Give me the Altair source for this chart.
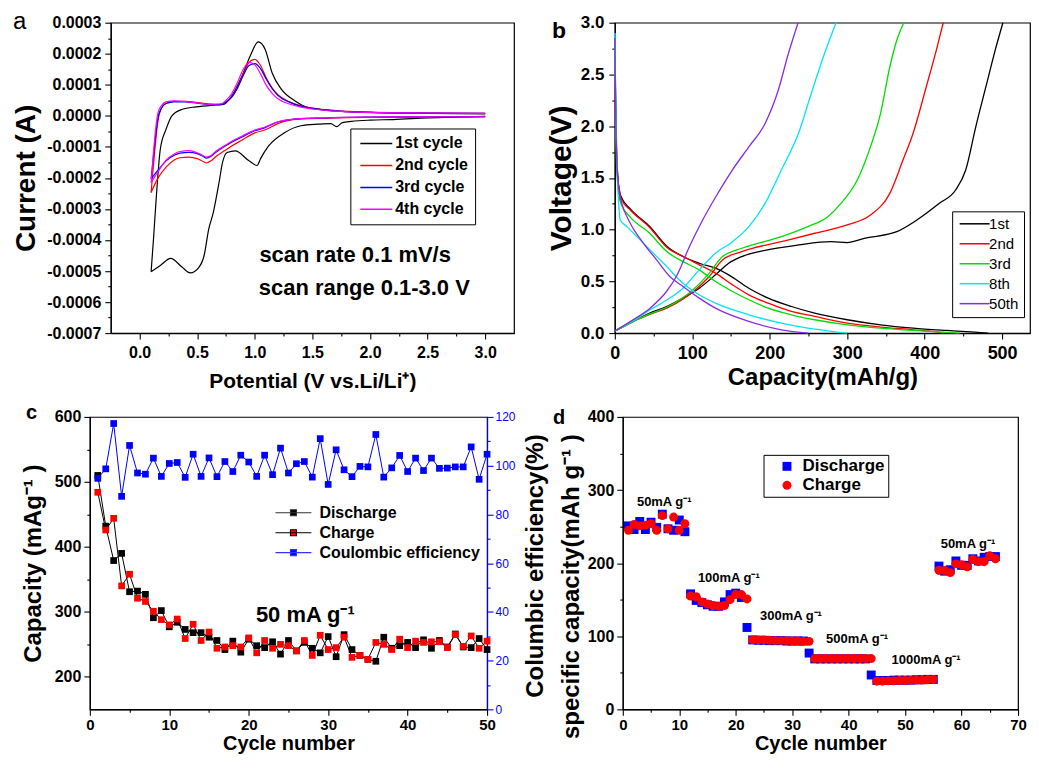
import altair as alt
import pandas as pd

FONT = "Liberation Sans"

# ===================== (a) cyclic voltammetry =====================
# potential in V, current in units of 1e-4 A
cv_names = ["1st cycle", "2nd cycle", "3rd cycle", "4th cycle"]
cv_colors = ["#000000", "#ff0000", "#0000ff", "#ff00ff"]

cv1_cath_v = [3.0, 2.5, 2.2, 2.0, 1.84, 1.76, 1.71, 1.66, 1.55, 1.4, 1.26, 1.12, 1.05, 1.02,
              0.95, 0.83, 0.76, 0.72, 0.69, 0.64, 0.60, 0.56, 0.515, 0.44, 0.37, 0.27, 0.18, 0.1]
cv1_cath_i = [-0.02, -0.07, -0.12, -0.14, -0.18, -0.22, -0.35, -0.25, -0.27, -0.32, -0.54, -0.97,
              -1.38, -1.6, -1.45, -1.13, -1.18, -1.5, -2.14, -3.11, -3.65, -4.5, -4.88, -5.06,
              -4.88, -4.59, -4.82, -5.02]
cv1_an_v = [0.1, 0.12, 0.14, 0.18, 0.23, 0.28, 0.37, 0.49, 0.66, 0.73, 0.80, 0.89, 0.96, 1.03,
            1.09, 1.15, 1.23, 1.35, 1.46, 1.69, 1.84, 2.5, 3.0]
cv1_an_i = [-5.02, -4.0, -2.89, -1.07, -0.43, 0.0, 0.21, 0.29, 0.35, 0.37, 0.64, 1.29, 1.93,
            2.38, 2.14, 1.39, 0.86, 0.48, 0.27, 0.16, 0.13, 0.08, 0.06]

cv_cath_v = [3.0, 2.5, 2.0, 1.8, 1.6, 1.4, 1.2, 1.09, 1.0, 0.89, 0.8, 0.74, 0.66, 0.62, 0.58,
             0.55, 0.5, 0.43, 0.35, 0.3, 0.23, 0.16, 0.1]
cv_an_v = [0.1, 0.12, 0.14, 0.16, 0.19, 0.23, 0.3, 0.4, 0.5, 0.6, 0.7, 0.75, 0.8, 0.85, 0.9,
           0.95, 1.0, 1.05, 1.1, 1.15, 1.2, 1.3, 1.4, 1.5, 1.7, 2.0, 2.5, 3.0]
cv2_cath_i = [-0.03, -0.04, -0.05, -0.06, -0.08, -0.10, -0.25, -0.45, -0.55, -0.78, -0.97, -1.12,
              -1.32, -1.45, -1.52, -1.47, -1.38, -1.33, -1.35, -1.42, -1.65, -2.0, -2.47]
cv2_an_i = [-2.47, -1.6, -0.8, -0.15, 0.25, 0.40, 0.47, 0.47, 0.43, 0.38, 0.37, 0.45, 0.62, 0.92,
            1.35, 1.72, 1.82, 1.62, 1.22, 0.9, 0.68, 0.45, 0.32, 0.25, 0.17, 0.12, 0.09, 0.08]
cv3_cath_i = [-0.03, -0.03, -0.04, -0.05, -0.07, -0.09, -0.2, -0.38, -0.48, -0.68, -0.85, -0.98,
              -1.18, -1.30, -1.36, -1.30, -1.22, -1.18, -1.2, -1.27, -1.45, -1.75, -2.03]
cv3_an_i = [-2.03, -1.3, -0.6, -0.05, 0.25, 0.40, 0.45, 0.45, 0.41, 0.37, 0.36, 0.44, 0.60, 0.90,
            1.30, 1.62, 1.68, 1.52, 1.18, 0.88, 0.66, 0.44, 0.31, 0.24, 0.16, 0.11, 0.09, 0.08]
cv4_cath_i = [-0.03, -0.03, -0.04, -0.05, -0.07, -0.09, -0.19, -0.36, -0.46, -0.65, -0.82, -0.96,
              -1.15, -1.28, -1.33, -1.28, -1.19, -1.12, -1.15, -1.23, -1.43, -1.8, -2.15]
cv4_an_i = [-2.15, -1.2, -0.4, 0.1, 0.33, 0.45, 0.48, 0.46, 0.42, 0.37, 0.38, 0.50, 0.72, 1.08,
            1.50, 1.72, 1.64, 1.35, 0.98, 0.72, 0.55, 0.38, 0.28, 0.22, 0.15, 0.11, 0.09, 0.08]

a_note_text = ["scan rate 0.1 mV/s", "scan range 0.1-3.0 V"]
a_note_x = [1.04, 1.035]
a_note_y = [-0.000449, -0.000555]

# ===================== (b) charge / discharge profiles =====================
b_names = ["1st", "2nd", "3rd", "8th", "50th"]
b_colors = ["#000000", "#ff0000", "#00dd00", "#00e5f5", "#8a2be2"]

dis1_c = [0, 1, 2, 4, 6, 8, 20, 45, 67, 88, 109, 130, 147, 173, 198, 228, 258, 300, 343, 385, 428, 460, 482]
dis1_v = [2.9, 2.3, 1.85, 1.5, 1.38, 1.32, 1.2, 1.03, 0.84, 0.74, 0.675, 0.627, 0.563, 0.434, 0.338,
          0.257, 0.193, 0.129, 0.080, 0.048, 0.026, 0.012, 0.0]
chg1_c = [0, 24, 45, 67, 88, 109, 130, 147, 164, 194, 237, 279, 300, 322, 364, 390, 419, 440, 453,
          466, 479, 491, 501]
chg1_v = [0.02, 0.113, 0.193, 0.257, 0.338, 0.434, 0.563, 0.675, 0.74, 0.80, 0.852, 0.884, 0.875,
          0.916, 0.98, 1.093, 1.254, 1.383, 1.576, 1.994, 2.379, 2.733, 3.0]
dis2_c = [0, 1, 2, 4, 6, 8, 20, 45, 67, 88, 109, 130, 152, 173, 198, 228, 258, 300, 343, 385, 417, 425]
dis2_v = [2.9, 2.2, 1.8, 1.48, 1.37, 1.3, 1.19, 1.02, 0.83, 0.74, 0.66, 0.58, 0.466, 0.37, 0.289,
          0.209, 0.161, 0.096, 0.058, 0.032, 0.01, 0.0]
chg2_c = [0, 24, 45, 67, 101, 122, 139, 164, 215, 258, 300, 330, 355, 372, 385, 402, 415, 424]
chg2_v = [0.02, 0.113, 0.18, 0.241, 0.40, 0.547, 0.707, 0.788, 0.884, 0.965, 1.045, 1.141, 1.35,
          1.672, 1.929, 2.379, 2.733, 3.0]
dis3_c = [0, 1, 2, 4, 6, 8, 20, 45, 67, 88, 109, 130, 152, 173, 198, 228, 258, 300, 343, 385, 445]
dis3_v = [2.9, 2.1, 1.7, 1.42, 1.3, 1.25, 1.12, 0.965, 0.788, 0.691, 0.611, 0.498, 0.402, 0.322,
          0.241, 0.177, 0.129, 0.08, 0.048, 0.026, 0.0]
chg3_c = [0, 24, 45, 67, 101, 122, 139, 164, 215, 249, 275, 292, 313, 330, 343, 355, 364, 373]
chg3_v = [0.02, 0.113, 0.185, 0.25, 0.418, 0.579, 0.74, 0.82, 0.932, 1.029, 1.125, 1.254, 1.479,
          1.8, 2.122, 2.572, 2.83, 3.0]
dis8_c = [0, 1, 2, 4, 5, 7, 15.7, 28.5, 45.5, 67, 88, 109, 130, 173, 215, 258, 300]
dis8_v = [2.9, 2.3, 1.9, 1.4, 1.25, 1.093, 1.029, 0.932, 0.804, 0.643, 0.482, 0.37, 0.289, 0.177,
          0.096, 0.039, 0.0]
chg8_c = [0, 24, 45.5, 67, 88, 109, 130, 152, 173, 194, 215, 237, 253.6, 270.6, 285.5]
chg8_v = [0.02, 0.12, 0.225, 0.32, 0.434, 0.611, 0.772, 0.884, 1.029, 1.254, 1.576, 1.929, 2.315,
          2.7, 3.0]
dis50_c = [0, 1, 3, 6, 8, 20, 37, 54, 71, 88, 109, 130, 173, 215, 250]
dis50_v = [2.85, 2.2, 1.6, 1.35, 1.28, 1.061, 0.868, 0.707, 0.547, 0.45, 0.338, 0.241, 0.113,
           0.032, 0.0]
chg50_c = [0, 24, 45.5, 66.7, 79.4, 96.4, 113.4, 130.4, 151.7, 173, 194, 211, 224, 236.6]
chg50_v = [0.02, 0.13, 0.241, 0.402, 0.547, 0.836, 1.093, 1.318, 1.576, 1.80, 2.026, 2.347, 2.7, 3.0]

# ===================== (c) cycling at 50 mA/g =====================
c_names = ["Discharge", "Charge", "Coulombic efficiency"]
c_cycles = list(range(1, 51))
c_disch = [510, 432, 379, 390, 331, 332, 327, 291, 302, 277, 284, 273, 268, 268, 261, 256, 242,
           255, 238, 258, 248, 245, 254, 235, 256, 240, 253, 244, 237, 262, 231, 265, 242, 233,
           227, 224, 261, 244, 248, 253, 245, 257, 244, 256, 246, 266, 246, 245, 259, 242]
c_charge = [484, 426, 444, 340, 358, 321, 316, 301, 288, 280, 289, 259, 281, 256, 269, 244, 246,
            248, 246, 260, 237, 256, 244, 250, 248, 240, 256, 233, 264, 242, 245, 261, 230, 233,
            227, 253, 250, 242, 258, 245, 255, 253, 254, 254, 245, 265, 247, 263, 244, 255]
c_ce = [94.8, 98.7, 117.3, 87.4, 108.3, 97.0, 96.5, 103.1, 95.6, 100.9, 101.3, 95.2, 104.7, 95.6,
        103.2, 95.5, 101.7, 97.6, 104.3, 101.5, 95.6, 104.3, 96.3, 107.2, 97.0, 100.8, 101.7, 95.3,
        111.1, 92.3, 106.5, 98.3, 95.5, 99.7, 99.5, 112.8, 95.3, 99.1, 104.2, 97.6, 103.1, 98.0,
        103.1, 98.9, 99.0, 99.5, 99.5, 107.7, 94.4, 104.7]
c_note_text = ["50 mA g\u207b\u00b9"]
c_note_x = [20.9]
c_note_y = [295]

# ===================== (d) rate capability =====================
d_names = ["Discharge", "Charge"]
d_cycles = list(range(1, 67))
d_disch = [251, 246, 257, 246, 256, 249, 267, 247, 245, 259, 243,
           158, 149, 146, 143, 141, 141, 147, 157, 159, 153,
           112, 95, 94.5, 94.5, 94, 94, 94, 93.5, 93.5, 93.5, 93.5,
           77, 69, 69, 69, 69, 69, 69, 69, 69, 69, 69,
           47, 39.5, 39.5, 39.5, 40, 40, 40, 40, 40.5, 40.5, 41, 41,
           196, 189, 191, 203, 197, 197, 206, 203, 208, 209, 209]
d_charge = [245, 253, 251, 252, 254, 245, 265, 247, 263, 245, 254,
            155, 154, 147, 144, 142, 141, 142, 150, 157, 157, 151,
            95, 95, 95, 94.5, 94, 94, 94, 93.5, 93.5, 93, 93,
            69.5, 69.5, 69.5, 69.5, 69.5, 69.5, 69.5, 69.5, 69.5, 69.5, 69.5,
            38.5, 38.5, 39, 39, 39.5, 39.5, 40, 40, 40, 40.5, 41,
            190, 190, 187, 199, 198, 195, 205, 202, 202, 210, 206]
d_note_text = ["50mA g\u207b\u00b9", "100mA g\u207b\u00b9", "300mA g\u207b\u00b9",
               "500mA g\u207b\u00b9", "1000mA g\u207b\u00b9", "50mA g\u207b\u00b9"]
d_note_x = [2.5, 13.3, 24.3, 36.0, 47.6, 56.3]
d_note_y = [283, 180, 128, 96, 68, 226]


# ===================== helpers =====================
def axis_spec(major, minor, step, fmt, title, title_size, label_size, title_pad, label_pad,
              label_weight="bold", color="#000000", orient=None, **extra):
    values = sorted(set(major) | set(minor))
    is_minor = ("abs(datum.value / " + repr(float(step)) + " - round(datum.value / "
                + repr(float(step)) + ")) > 0.001")
    opts = dict(
        values=values, tickCount=500,
        labelExpr=is_minor + " ? '' : replace(format(datum.value, '" + fmt + "'), '\u2212', '-')",
        tickSize={"condition": {"test": is_minor, "value": 3}, "value": 6},
        title=title,
        titleFont=FONT, titleFontSize=title_size, titleFontWeight="bold", titleColor="#000000",
        titlePadding=title_pad,
        labelFont=FONT, labelFontSize=label_size, labelFontWeight=label_weight, labelColor=color,
        labelPadding=label_pad,
        domainColor=color, tickColor=color, domainWidth=1.2, tickWidth=1.1,
        grid=False, labelFlush=False, labelOverlap=False, labelBound=False,
    )
    if orient:
        opts["orient"] = orient
    opts.update(extra)
    return alt.Axis(**opts)


def letter(txt, x, y, size, weight):
    return alt.Chart(pd.DataFrame({"t": [txt]})).mark_text(
        align="left", baseline="top", font=FONT, fontSize=size, fontWeight=weight,
        color="#000000").encode(x=alt.value(x), y=alt.value(y), text="t:N")


def spacer(x, y):
    return alt.Chart(pd.DataFrame({"s": [0]})).mark_point(opacity=0, size=0, strokeWidth=0).encode(
        x=alt.value(x), y=alt.value(y))


def empty_cell():
    return alt.Chart(pd.DataFrame({"s": [0]})).mark_point(opacity=0, size=0, strokeWidth=0).encode(
        x=alt.value(0), y=alt.value(0)).properties(
        width=1, height=1, view=alt.ViewBackground(stroke="transparent"))


def curve_rows(xs, ys, series, seg, factor=1.0):
    return [{"x": x, "y": y * factor, "series": series, "seg": seg, "idx": k}
            for k, (x, y) in enumerate(zip(xs, ys))]


indep = dict(color="independent", fill="independent", stroke="independent", shape="independent")


def ind(c):
    return c.resolve_scale(**indep).resolve_legend(**indep)


# ===================== panel a =====================
rows = []
rows += curve_rows(cv1_cath_v, cv1_cath_i, cv_names[0], "1c", 1e-4)
rows += curve_rows(cv1_an_v, cv1_an_i, cv_names[0], "1a", 1e-4)
rows += curve_rows(cv_cath_v, cv2_cath_i, cv_names[1], "2c", 1e-4)
rows += curve_rows(cv_an_v, cv2_an_i, cv_names[1], "2a", 1e-4)
rows += curve_rows(cv_cath_v, cv3_cath_i, cv_names[2], "3c", 1e-4)
rows += curve_rows(cv_an_v, cv3_an_i, cv_names[2], "3a", 1e-4)
rows += curve_rows(cv_cath_v, cv4_cath_i, cv_names[3], "4c", 1e-4)
rows += curve_rows(cv_an_v, cv4_an_i, cv_names[3], "4a", 1e-4)
df_a = pd.DataFrame(rows)

a_xmaj = [0.0, 0.5, 1.0, 1.5, 2.0, 2.5, 3.0]
a_xmin = [0.25, 0.75, 1.25, 1.75, 2.25, 2.75]
a_ymaj = [round(k * 0.0001, 4) for k in range(-7, 4)]
a_ymin = [round(k * 0.0001 + 0.00005, 5) for k in range(-7, 3)]

a_x = alt.X("x:Q", scale=alt.Scale(domain=[-0.25, 3.25], nice=False, zero=False),
            axis=axis_spec(a_xmaj, a_xmin, 0.5, ".1f", "Potential (V vs.Li/Li\u207a)", 21, 16, 11, 5))
a_y = alt.Y("y:Q", scale=alt.Scale(domain=[-0.0007, 0.0003], nice=False, zero=False),
            axis=axis_spec(a_ymaj, a_ymin, 0.0001, ".4f", "Current (A)", 28, 16, 6, 4))

a_lines = alt.Chart(df_a).mark_line(strokeWidth=1.2, interpolate="monotone").encode(
    x=a_x, y=a_y,
    color=alt.Color("series:N", scale=alt.Scale(domain=cv_names, range=cv_colors),
                    legend=alt.Legend(title=None, orient="none", legendX=240, legendY=106,
                                      strokeColor="#000000", fillColor="#ffffff", padding=7,
                                      labelFont=FONT, labelFontSize=16, labelFontWeight="bold",
                                      labelColor="#000000", symbolType="M-1,0H5.4", symbolSize=100,
                                      symbolStrokeWidth=1.5, labelOffset=22, rowPadding=6)),
    detail="seg:N", order="idx:Q")

a_notes = alt.Chart(pd.DataFrame({"x": a_note_x, "y": a_note_y, "t": a_note_text})).mark_text(
    align="left", baseline="middle", font=FONT, fontSize=22, fontWeight="bold", color="#000000"
).encode(x="x:Q", y="y:Q", text="t:N")

panel_a = alt.layer(a_lines, a_notes, letter("a", -98, -12.5, 24, "normal"), spacer(-99, -8)
                    ).properties(width=404, height=311)

# ===================== panel b =====================
rows = []
for name, dc, dv, cc, cvv in [(b_names[0], dis1_c, dis1_v, chg1_c, chg1_v),
                              (b_names[1], dis2_c, dis2_v, chg2_c, chg2_v),
                              (b_names[2], dis3_c, dis3_v, chg3_c, chg3_v),
                              (b_names[3], dis8_c, dis8_v, chg8_c, chg8_v),
                              (b_names[4], dis50_c, dis50_v, chg50_c, chg50_v)]:
    rows += curve_rows(dc, dv, name, name + "d")
    rows += curve_rows(cc, cvv, name, name + "c")
df_b = pd.DataFrame(rows)

b_xmaj = [0, 100, 200, 300, 400, 500]
b_xmin = [50, 150, 250, 350, 450]
b_ymaj = [0.0, 0.5, 1.0, 1.5, 2.0, 2.5, 3.0]
b_ymin = [0.25, 0.75, 1.25, 1.75, 2.25, 2.75]

b_lines = alt.Chart(df_b).mark_line(strokeWidth=1.3, interpolate="monotone").encode(
    x=alt.X("x:Q", scale=alt.Scale(domain=[0, 536], nice=False, zero=False),
            axis=axis_spec(b_xmaj, b_xmin, 100, "d", "Capacity(mAh/g)", 24, 18, 4, 5)),
    y=alt.Y("y:Q", scale=alt.Scale(domain=[0, 3], nice=False, zero=False),
            axis=axis_spec(b_ymaj, b_ymin, 0.5, ".1f", "Voltage(V)", 30, 17, 4, 5)),
    color=alt.Color("series:N", scale=alt.Scale(domain=b_names, range=b_colors),
                    legend=alt.Legend(title=None, orient="none", legendX=338, legendY=189,
                                      strokeColor="#000000", fillColor="#ffffff", padding=5,
                                      labelFont=FONT, labelFontSize=15, labelFontWeight="normal",
                                      labelColor="#000000", symbolType="M-1,0H5.0", symbolSize=100,
                                      symbolStrokeWidth=1.5, labelOffset=17, rowPadding=4)),
    detail="seg:N", order="idx:Q")

panel_b = alt.layer(b_lines, letter("b", -63, -2.4, 23, "bold")).properties(width=416, height=311)

# ===================== panel c =====================
df_c = pd.DataFrame({"cycle": c_cycles, "dis": c_disch, "chg": c_charge, "ce": c_ce})
c_xmaj = [0, 10, 20, 30, 40, 50]
c_xmin = [5, 15, 25, 35, 45]
c_ymaj = [200, 300, 400, 500, 600]
c_ymin = [250, 350, 450, 550]
c_rmaj = [0, 20, 40, 60, 80, 100, 120]
c_rmin = [10, 30, 50, 70, 90, 110]

c_x = alt.X("cycle:Q", scale=alt.Scale(domain=[0, 50], nice=False, zero=False),
            axis=axis_spec(c_xmaj, c_xmin, 10, "d", "Cycle number", 20, 15, 1, 2))
c_yl_scale = alt.Scale(domain=[150, 600], nice=False, zero=False)
c_yl_axis = axis_spec(c_ymaj, c_ymin, 100, "d", "Capacity  (mAg\u207b\u00b9 )", 24, 16, 9, 3)
c_yr_scale = alt.Scale(domain=[0, 120], nice=False, zero=False)
c_yr_axis = axis_spec(c_rmaj, c_rmin, 20, "d", None, 12, 12, 4, 2, label_weight="normal",
                      color="#0000ff", orient="right")

base_c = alt.Chart(df_c)
c_line_dis = base_c.mark_line(strokeWidth=1, color="#000000").encode(
    x=c_x, y=alt.Y("dis:Q", scale=c_yl_scale, axis=c_yl_axis))
c_line_chg = base_c.mark_line(strokeWidth=1, color="#000000").encode(
    x=c_x, y=alt.Y("chg:Q", scale=c_yl_scale, axis=c_yl_axis))
c_pts_dis = base_c.mark_square(size=45, opacity=1, color="#000000").encode(
    x=c_x, y=alt.Y("dis:Q", scale=c_yl_scale, axis=c_yl_axis))
c_pts_chg = base_c.mark_square(size=45, opacity=1, color="#ff0000").encode(
    x=c_x, y=alt.Y("chg:Q", scale=c_yl_scale, axis=c_yl_axis))

c_leg_props = dict(title=None, orient="none", legendX=183, legendY=88, padding=0,
                   labelFont=FONT, labelFontSize=16, labelFontWeight="bold", labelColor="#000000",
                   symbolType="M-1,0H6.2M2.0,-0.6H3.2V0.6H2.0Z", symbolSize=100,
                   symbolStrokeWidth=1.1, labelOffset=31, rowPadding=4, labelLimit=400)
c_legend = alt.Chart(pd.DataFrame({"series": pd.Series([], dtype="object")})).mark_point(
    filled=True, opacity=1).encode(
    fill=alt.Fill("series:N", scale=alt.Scale(domain=c_names, range=["#000000", "#ff0000", "#0000ff"]),
                  legend=alt.Legend(**c_leg_props)),
    stroke=alt.Stroke("series:N", scale=alt.Scale(domain=c_names, range=["#333333", "#000000", "#3333ff"]),
                      legend=alt.Legend(**c_leg_props)))

c_notes = alt.Chart(pd.DataFrame({"x": c_note_x, "y": c_note_y, "t": c_note_text})).mark_text(
    align="left", baseline="middle", font=FONT, fontSize=22, fontWeight="bold", color="#000000"
).encode(x="x:Q", y=alt.Y("y:Q", scale=c_yl_scale, axis=c_yl_axis), text="t:N")

c_left = alt.layer(c_line_dis, c_line_chg, c_pts_dis, c_pts_chg, c_notes, c_legend)

c_line_ce = base_c.mark_line(strokeWidth=1, color="#0000ff").encode(
    x=c_x, y=alt.Y("ce:Q", scale=c_yr_scale, axis=c_yr_axis))
c_pts_ce = base_c.mark_square(size=45, opacity=1, color="#0000ff").encode(
    x=c_x, y=alt.Y("ce:Q", scale=c_yr_scale, axis=c_yr_axis))
c_right = alt.layer(c_line_ce, c_pts_ce)

panel_c = alt.layer(c_left, c_right, letter("c", -64, -14.4, 20, "bold"), spacer(-78, -8)
                    ).resolve_scale(y="independent").properties(width=398, height=293)

# ===================== panel d =====================
df_d = pd.DataFrame({"cycle": d_cycles * 2, "cap": d_disch + d_charge,
                     "series": [d_names[0]] * len(d_cycles) + [d_names[1]] * len(d_cycles)})
d_xmaj = [0, 10, 20, 30, 40, 50, 60, 70]
d_xmin = [5, 15, 25, 35, 45, 55, 65]
d_ymaj = [0, 100, 200, 300, 400]
d_ymin = [50, 150, 250, 350]

d_x = alt.X("cycle:Q", scale=alt.Scale(domain=[0, 70], nice=False, zero=False),
            axis=axis_spec(d_xmaj, d_xmin, 10, "d", "Cycle number", 20, 15, 1, 2))
d_y_scale = alt.Scale(domain=[0, 400], nice=False, zero=False)
d_y_axis = axis_spec(d_ymaj, d_ymin, 100, "d",
                     ["Columbic  efficiency(%)", "specific capacity(mAh g\u207b\u00b9 )"],
                     24, 16, 4, 3, titleLineHeight=36, titleAlign="right", titleY=17)
d_leg_props = dict(title=None, orient="none", legendX=141, legendY=38, strokeColor="#000000",
                   fillColor="#ffffff", padding=3, labelFont=FONT, labelFontSize=17,
                   labelFontWeight="bold", labelColor="#000000", symbolSize=80, symbolOffset=12,
                   labelOffset=7, rowPadding=1)
d_pts = alt.Chart(df_d).mark_point(filled=True, opacity=1, size=80).encode(
    x=d_x, y=alt.Y("cap:Q", scale=d_y_scale, axis=d_y_axis),
    color=alt.Color("series:N", scale=alt.Scale(domain=d_names, range=["#0000ff", "#ff0000"]),
                    legend=alt.Legend(**d_leg_props)),
    shape=alt.Shape("series:N", scale=alt.Scale(domain=d_names, range=["square", "circle"]),
                    legend=alt.Legend(**d_leg_props)))
d_notes = alt.Chart(pd.DataFrame({"x": d_note_x, "y": d_note_y, "t": d_note_text})).mark_text(
    align="left", baseline="middle", font=FONT, fontSize=13, fontWeight="bold", color="#000000"
).encode(x="x:Q", y=alt.Y("y:Q", scale=d_y_scale, axis=d_y_axis), text="t:N")

panel_d = alt.layer(d_pts, d_notes, letter("d", -70, -9.2, 20, "bold"), spacer(-60, -8)
                    ).properties(width=396, height=293)

# ===================== assemble =====================
top = ind(alt.hconcat(empty_cell(), ind(alt.hconcat(panel_a, panel_b, spacing=30)), spacing=0))
bottom = ind(alt.hconcat(empty_cell(), ind(alt.hconcat(panel_c, panel_d, spacing=6)), spacing=0))
chart = ind(alt.vconcat(top, bottom, spacing=9, padding=0)).configure(
    font=FONT, background="#ffffff").configure_view(
    stroke="#000000", strokeWidth=1.2).configure_axis(labelOverlap=False)

chart.save("out.html", embed_options={"renderer": "svg", "actions": False})
